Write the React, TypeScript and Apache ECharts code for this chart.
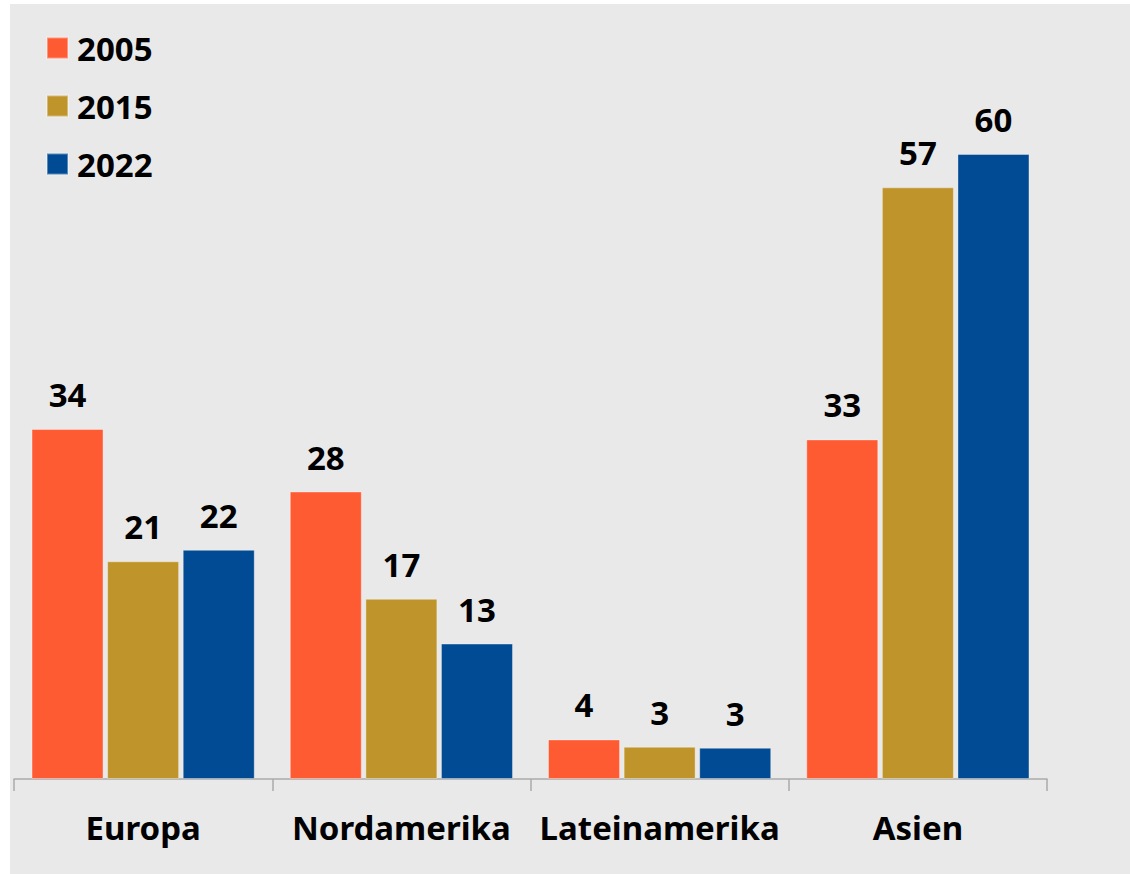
import React, { useEffect, useRef } from "react";
import * as echarts from "echarts";

const categories = ["Europa", "Nordamerika", "Lateinamerika", "Asien"];
const seriesNames = ["2005", "2015", "2022"];
const values2005 = [33.6, 27.6, 3.8, 32.6];
const values2015 = [20.9, 17.3, 3.1, 56.8];
const values2022 = [22.0, 13.0, 3.0, 60.0];
const colors = ["#ff5b33", "#bf952b", "#004b93"];

const FONT = "'Noto Sans', sans-serif";

export default function App() {
  const ref = useRef<HTMLDivElement>(null);
  useEffect(() => {
    if (!ref.current) return;
    const chart = echarts.init(ref.current, undefined, { renderer: "svg" });
    const seriesData = [values2005, values2015, values2022];
    chart.setOption({
      animation: false,
      backgroundColor: "#e9e9e9",
      textStyle: { fontFamily: FONT },
      legend: {
        orient: "vertical",
        left: 36,
        top: 26,
        padding: 0,
        itemWidth: 21,
        itemHeight: 21,
        itemGap: 22,
        icon: "rect",
        data: seriesNames,
        textStyle: {
          fontFamily: FONT,
          fontWeight: "bold",
          fontSize: 33,
          lineHeight: 36,
          color: "#000",
          padding: [0, 0, 0, 4],
        },
      },
      grid: { left: 4, right: 83, top: 150, bottom: 95, containLabel: false },
      xAxis: {
        type: "category",
        data: categories,
        axisLine: { lineStyle: { color: "#aaaaaa", width: 1.5 } },
        axisTick: { show: true, length: 12, lineStyle: { color: "#aaaaaa", width: 1.5 } },
        axisLabel: {
          margin: 32,
          fontFamily: FONT,
          fontWeight: "bold",
          fontSize: 33,
          color: "#000",
          interval: 0,
        },
      },
      yAxis: {
        type: "value",
        min: 0,
        max: 60,
        show: false,
        splitLine: { show: false },
      },
      series: seriesNames.map((name, i) => ({
        name,
        type: "bar",
        data: seriesData[i],
        barWidth: 72,
        barGap: "5%",
        itemStyle: {
          color: colors[i],
          borderColor: "rgba(255,255,255,0.35)",
          borderWidth: 1,
        },
        label: {
          show: true,
          position: "top",
          distance: 18,
          fontFamily: FONT,
          fontWeight: "bold",
          fontSize: 33,
          color: "#000",
          formatter: (p: any) => String(Math.round(p.value)),
        },
      })),
    });
    return () => chart.dispose();
  }, []);
  return (
    <div
      ref={ref}
      style={{ position: "absolute", left: 10, top: 4, width: 1120, height: 870 }}
    />
  );
}
